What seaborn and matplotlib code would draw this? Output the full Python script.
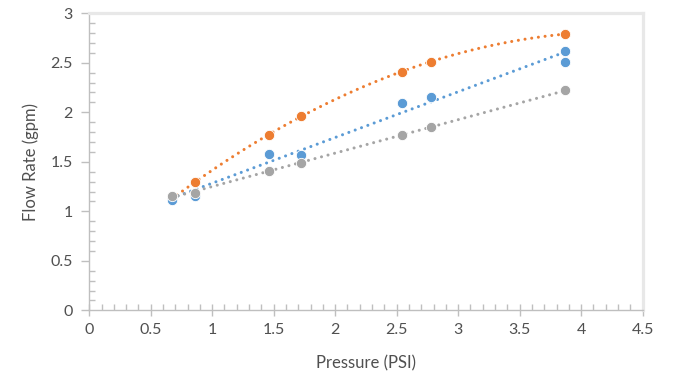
import numpy as np
import pandas as pd
import matplotlib.pyplot as plt
import seaborn as sns
from matplotlib.ticker import MultipleLocator

# data
pressure = [0.67, 0.86, 1.46, 1.72, 2.54, 2.78, 3.87]
flow_orange = [1.12, 1.30, 1.77, 1.96, 2.41, 2.51, 2.79]
pressure_blue = [0.67, 0.86, 1.46, 1.72, 2.54, 2.78, 3.87, 3.87]
flow_blue = [1.11, 1.15, 1.58, 1.57, 2.09, 2.15, 2.62, 2.51]
flow_gray = [1.15, 1.19, 1.41, 1.49, 1.77, 1.85, 2.22]

sns.set_style("white")
plt.rcParams['font.family'] = ['Lato', 'DejaVu Sans']

fig = plt.figure(figsize=(6.97, 3.88), dpi=100)
ax = fig.add_axes([0.128, 0.200, 0.794, 0.766])

orange = "#ED7D31"
blue = "#5B9BD5"
gray = "#A5A5A5"
dots = (0, (0.01, 2.2))

# (x, y, colour, fit order, marker zorder)
series = [
    (pressure, flow_orange, orange, 2, 3),
    (pressure_blue, flow_blue, blue, 1, 4),
    (pressure, flow_gray, gray, 1, 5),
]
for xs, ys, col, order, z in series:
    df = pd.DataFrame({"x": xs, "y": ys})
    sns.regplot(data=df, x="x", y="y", order=order, ci=None, ax=ax,
                color=col,
                scatter_kws=dict(s=55, alpha=1, linewidths=0.6, edgecolors="white", zorder=z),
                line_kws=dict(lw=2.2, linestyle=dots, dash_capstyle="round", zorder=2))

ax.set_xlim(0, 4.5)
ax.set_ylim(0, 3)
ax.xaxis.set_minor_locator(MultipleLocator(0.1))
ax.yaxis.set_minor_locator(MultipleLocator(0.1))
ax.set_xticks(np.arange(0, 4.51, 0.5))
ax.set_xticklabels([f"{v:g}" for v in np.arange(0, 4.51, 0.5)])
ax.set_yticks(np.arange(0, 3.01, 0.5))
ax.set_yticklabels([f"{v:g}" for v in np.arange(0, 3.01, 0.5)])

txt = "#505050"
ax.tick_params(axis="x", which="major", direction="inout", length=8, width=1,
               color="#BFBFBF", labelsize=11.5, labelcolor=txt, pad=5, bottom=True)
ax.tick_params(axis="y", which="major", direction="out", length=6, width=1,
               color="#BFBFBF", labelsize=11.5, labelcolor=txt, pad=6, left=True)
ax.tick_params(which="minor", direction="in", length=4, width=1, color="#BFBFBF")
ax.tick_params(axis="x", which="minor", bottom=True)
ax.tick_params(axis="y", which="minor", left=True)

for side in ["left", "bottom"]:
    ax.spines[side].set_color("#BFBFBF")
    ax.spines[side].set_linewidth(1)
for side in ["top", "right"]:
    ax.spines[side].set_color("#E8E8E8")
    ax.spines[side].set_linewidth(2.3)

ax.set_xlabel("Pressure (PSI)", fontsize=12, color=txt, labelpad=13)
ax.set_ylabel("Flow Rate (gpm)", fontsize=12, color=txt, labelpad=8)

fig.savefig("out.png", dpi=100)
